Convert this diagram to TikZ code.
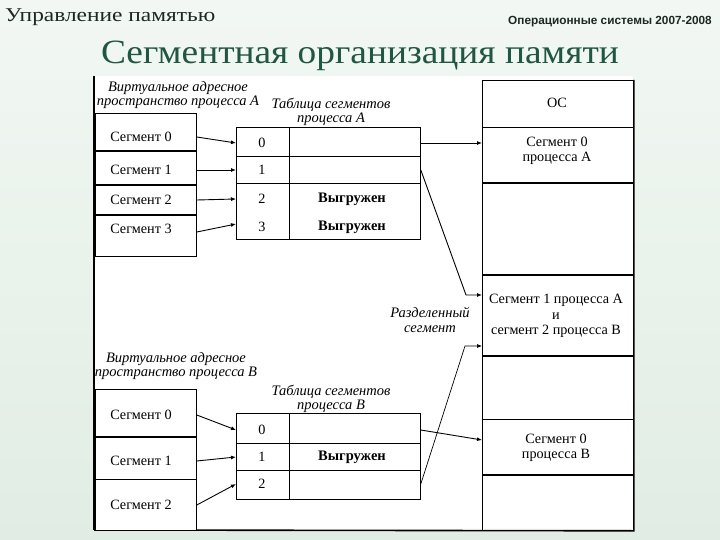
\documentclass[tikz,border=0pt]{standalone}
\usepackage{fontspec}
\setmainfont{Liberation Serif}
\newfontfamily\hsans{Liberation Sans}
\usetikzlibrary{arrows.meta,calc}
\definecolor{titlegreen}{RGB}{32,86,68}
\definecolor{hdrcol}{RGB}{30,40,34}
\definecolor{bgtop}{RGB}{242,247,243}
\definecolor{bgbot}{RGB}{225,237,228}
\begin{document}
\begin{tikzpicture}[x=1pt,y=-1pt,
  cell/.style={draw=black, line width=0.8pt, fill=white, inner sep=0pt, anchor=north west},
  txt/.style={font=\fontsize{14.2}{15.5}\selectfont, inner sep=0pt, align=center},
  itl/.style={font=\fontsize{14.5}{14.5}\selectfont\itshape, inner sep=0pt, align=center},
  bld/.style={font=\fontsize{14.5}{15}\selectfont\bfseries, inner sep=0pt},
  arr/.style={-{Latex[length=5pt,width=4pt]}, line width=0.9pt},
  sep/.style={line width=0.8pt},
  heavy/.style={line width=2pt}]
\useasboundingbox (0,0) rectangle (720,540);
\shade[top color=bgtop, bottom color=bgbot] (0,0) rectangle (720,540);
% header
\node[anchor=base west, font=\fontsize{19.5}{22}\selectfont, text=hdrcol, inner sep=0pt] (hdr) at (5,22) {\scalebox{1.2}[1]{Управление памятью}};
\node[anchor=base east, font=\hsans\bfseries\fontsize{11.8}{13}\selectfont, text=hdrcol, inner sep=0pt] (course) at (712,25) {Операционные системы 2007-2008};
\node[anchor=base, font=\fontsize{34}{38}\selectfont, text=titlegreen, inner sep=0pt] (title) at (360,64) {\scalebox{1.1}[1]{Сегментная организация памяти}};
% white panel
\fill[white] (93,76) rectangle (633,531);
\draw[line width=1.2pt] (94,76) -- (94,530);
% memory column
\node[cell, minimum width=151pt, minimum height=47pt] (os) at (482,80) {};
\node[cell, minimum width=151pt, minimum height=56pt] (mA) at (482,127) {};
\node[cell, minimum width=151pt, minimum height=92pt] (f1) at (482,183) {};
\node[cell, minimum width=151pt, minimum height=81pt] (sh) at (482,275) {};
\node[cell, minimum width=151pt, minimum height=63pt] (f2) at (482,356) {};
\node[cell, minimum width=151pt, minimum height=56pt] (mB) at (482,419) {};
\node[cell, minimum width=151pt, minimum height=55pt] (f3) at (482,475) {};
\draw[heavy] (f1.north west) -- (f1.north east);
\draw[heavy] (sh.north west) -- (sh.north east);
\draw[heavy] (f2.north west) -- (f2.north east);
\draw[heavy] (f3.north west) -- (f3.north east);
\draw[line width=1.6pt] (os.north east) -- (f3.south east) -- (94,530);
\node[txt] (tos) at (557,103) {ОС};
\node[txt] (tmA) at (557,151) {Сегмент 0\\процесса А};
\node[txt, align=center] (tsh) at (556,316) {Сегмент 1 процесса А\\и\\сегмент 2 процесса В};
\node[txt] (tmB) at (556,448) {Сегмент 0\\процесса В};
% process A virtual space
\node[itl] (labA) at (178,95) {Виртуальное адресное\\пространство процесса A};
\node[cell, minimum width=101pt, minimum height=38pt] (aA0) at (95,113) {};
\node[cell, minimum width=101pt, minimum height=34pt] (aA1) at (95,151) {};
\node[cell, minimum width=101pt, minimum height=30pt] (aA2) at (95,185) {};
\node[cell, minimum width=101pt, minimum height=41pt] (aA3) at (95,215) {};
\draw[heavy] (aA1.north west) -- (aA1.north east);
\draw[heavy] (aA2.north west) -- (aA2.north east);
\draw[heavy] (aA3.north west) -- (aA3.north east);
\node[txt] (sA0) at (141,137) {Сегмент 0};
\node[txt] (sA1) at (141,170) {Сегмент 1};
\node[txt] (sA2) at (141,200) {Сегмент 2};
\node[txt] (sA3) at (141,229) {Сегмент 3};
% table A
\node[itl] (labTA) at (331,112) {Таблица сегментов\\процесса A};
\node[cell, minimum width=184pt, minimum height=112pt] (tA) at (236,127) {};
\draw[sep] (289,127) -- (289,239);
\draw[sep] (236,156) -- (420,156);
\draw[sep] (236,183) -- (420,183);
\node[txt] (nA0) at (262,143) {0};
\node[txt] (nA1) at (262,170) {1};
\node[txt] (nA2) at (262,199) {2};
\node[txt] (nA3) at (262,227) {3};
\node[bld] (vA2) at (352,199) {Выгружен};
\node[bld] (vA3) at (352,227) {Выгружен};
% process B virtual space
\node[itl] (labB) at (176,366) {Виртуальное адресное\\пространство процесса B};
\node[cell, minimum width=101pt, minimum height=48pt] (bB0) at (95,389) {};
\node[cell, minimum width=101pt, minimum height=42pt] (bB1) at (95,437) {};
\node[cell, minimum width=101pt, minimum height=51pt] (bB2) at (95,479) {};
\draw[heavy] (bB1.north west) -- (bB1.north east);
\node[txt] (sB0) at (141,415) {Сегмент 0};
\node[txt] (sB1) at (141,461) {Сегмент 1};
\node[txt] (sB2) at (141,505) {Сегмент 2};
% table B
\node[itl] (labTB) at (331,399) {Таблица сегментов\\процесса B};
\node[cell, minimum width=184pt, minimum height=86pt] (tB) at (236,413) {};
\draw[sep] (289,413) -- (289,499);
\draw[sep] (236,443) -- (420,443);
\draw[sep] (236,470) -- (420,470);
\node[txt] (nB0) at (262,430) {0};
\node[txt] (nB1) at (262,457) {1};
\node[txt] (nB2) at (262,484) {2};
\node[bld] (vB1) at (352,457) {Выгружен};
% shared label
\node[itl] (labSh) at (430,320) {Разделенный\\сегмент};
% connectors A
\draw[arr] (aA0.east |- sA0) -- (tA.west |- nA0);
\draw[arr] (aA1.east |- sA1) -- (tA.west |- nA1);
\draw[arr] (aA2.east |- sA2) -- (tA.west |- nA2);
\draw[arr] ([yshift=-3pt]aA3.east |- sA3) -- ([yshift=3pt]tA.west |- nA3);
\draw[arr] (tA.east |- nA0) -- (mA.west |- nA0);
\coordinate (bendA) at (466,295);
\draw[arr] (tA.east |- nA1) -- (bendA) -- (sh.west |- bendA);
% connectors B
\draw[arr] (bB0.east |- sB0) -- (tB.west |- nB0);
\draw[arr] (bB1.east |- sB1) -- (tB.west |- nB1);
\draw[arr] (bB2.east |- sB2) -- (tB.west |- nB2);
\draw[arr] (tB.east |- nB0) -- ([yshift=8pt]mB.west |- tmB);
\coordinate (bendB) at (465,346);
\draw[arr, line width=0.7pt] (tB.east |- nB2) -- (bendB) -- (sh.west |- bendB);
\end{tikzpicture}
\end{document}
